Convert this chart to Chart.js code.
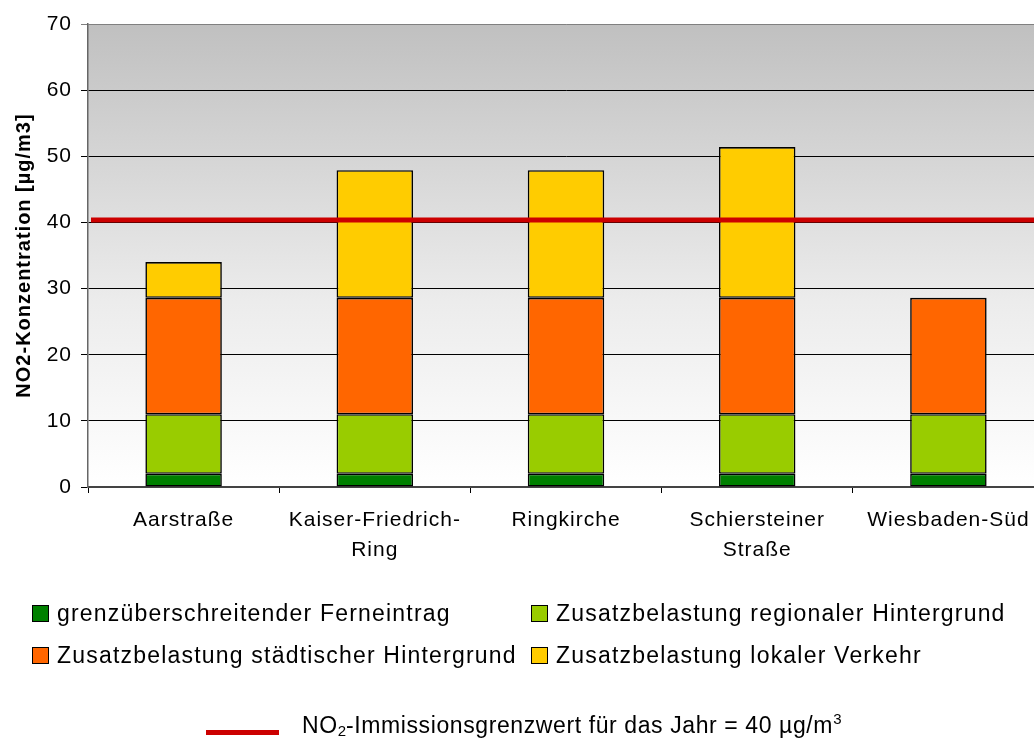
<!DOCTYPE html>
<html lang="de">
<head>
<meta charset="utf-8">
<title>NO2-Konzentration Wiesbaden</title>
<script src="https://cdn.jsdelivr.net/npm/chart.js@4.4.1/dist/chart.umd.min.js"></script>
<style>
  html, body { margin: 0; padding: 0; background: #fff; overflow: hidden; }
  #wrap { position: relative; width: 1034px; height: 738px; overflow: hidden; }
  #chart { position: absolute; left: 0; top: 0; }
  .leg { position: absolute; font-family: "Liberation Sans", Arial, sans-serif; font-size: 23px;
         letter-spacing: 1.2px; color: #000; line-height: 30px; white-space: nowrap; }
  .box { position: absolute; width: 15px; height: 15px; border: 1px solid #000; }
  sub, sup { font-size: 15px; letter-spacing: 0; }
  sub { vertical-align: -3px; }
  sup { vertical-align: 9px; }
</style>
</head>
<body>
<div id="wrap">
  <canvas id="chart" width="1044" height="738"></canvas>
  <div id="legende"></div>
</div>
<script>
// Messstellen
const standorte = ['Aarstraße', ['Kaiser-Friedrich-', 'Ring'], 'Ringkirche', ['Schiersteiner', 'Straße'], 'Wiesbaden-Süd'];

// Anteile der NO2-Belastung in µg/m3
const ferneintrag = [2, 2, 2, 2, 2];
const regional = [9, 9, 9, 9, 9];
const staedtisch = [17.6, 17.6, 17.6, 17.6, 17.6];
const verkehr = [5.4, 19.3, 19.3, 22.8, null];

const grenzwert = 40;
const yTicks = [0, 10, 20, 30, 40, 50, 60, 70];

const reihen = [
    { label: 'grenzüberschreitender Ferneintrag', data: ferneintrag, farbe: '#008000' },
    { label: 'Zusatzbelastung regionaler Hintergrund', data: regional, farbe: '#99cc00' },
    { label: 'Zusatzbelastung städtischer Hintergrund', data: staedtisch, farbe: '#ff6600' },
    { label: 'Zusatzbelastung lokaler Verkehr', data: verkehr, farbe: '#ffcc00' }
];

const schrift = '"Liberation Sans", Arial, sans-serif';

// Grauverlauf hinter der Zeichenfläche
const hintergrund = {
    id: 'hintergrund',
    beforeLayout(chart) { chart.ctx.letterSpacing = '1px'; },
    beforeDraw(chart) {
        const { ctx, chartArea: a } = chart;
        ctx.letterSpacing = '1px';
        const g = ctx.createLinearGradient(0, a.top, 0, a.bottom);
        g.addColorStop(0, '#c0c0c0');
        g.addColorStop(0.6, '#ececec');
        g.addColorStop(1, '#ffffff');
        ctx.save();
        ctx.fillStyle = g;
        ctx.fillRect(a.left, a.top, a.right - a.left, a.bottom - a.top);
        ctx.restore();
    }
};

// Rote Linie für den Jahresgrenzwert
const grenzlinie = {
    id: 'grenzlinie',
    afterDatasetsDraw(chart) {
        const { ctx, chartArea: a, scales } = chart;
        const y = scales.y.getPixelForValue(grenzwert) - 2.5;
        ctx.save();
        ctx.strokeStyle = '#cc0000';
        ctx.lineWidth = 5;
        ctx.beginPath();
        ctx.moveTo(a.left + 3, y);
        ctx.lineTo(a.right, y);
        ctx.stroke();
        ctx.restore();
    }
};

const ctx = document.getElementById('chart').getContext('2d');
const chart = new Chart(ctx, {
    type: 'bar',
    data: {
        labels: standorte,
        datasets: reihen.map(r => ({
            label: r.label,
            data: r.data,
            backgroundColor: r.farbe,
            borderColor: '#000',
            borderWidth: 1.6,
            borderSkipped: false,
            barPercentage: 0.4,
            categoryPercentage: 1.0
        }))
    },
    options: {
        responsive: false,
        animation: false,
        devicePixelRatio: 1,
        layout: { padding: { top: 24, right: 0, left: 0, bottom: 0 } },
        plugins: {
            legend: { display: false },
            tooltip: { enabled: false }
        },
        scales: {
            x: {
                stacked: true,
                afterFit(scale) { scale.height = 251; },
                grid: { drawOnChartArea: false, drawTicks: true, tickLength: 6, color: '#000', offset: true },
                border: { display: true, color: '#444', width: 2 },
                ticks: {
                    color: '#000',
                    padding: 12,
                    maxRotation: 0,
                    autoSkip: false,
                    font: { family: schrift, size: 21, lineHeight: 1.42 }
                }
            },
            y: {
                stacked: true,
                min: 0,
                max: 70,
                afterFit(scale) { scale.width = 88; },
                afterBuildTicks(scale) { scale.ticks = yTicks.map(v => ({ value: v })); },
                grid: {
                    color: c => (c.tick && c.tick.value === 70 ? '#808080' : '#000'),
                    lineWidth: 1,
                    tickLength: 7
                },
                border: { display: true, color: '#666', width: 1.5 },
                ticks: {
                    color: '#000',
                    padding: 9,
                    font: { family: schrift, size: 21 }
                },
                title: {
                    display: true,
                    text: 'NO2-Konzentration [µg/m3]',
                    color: '#000',
                    padding: { top: 12, bottom: 0 },
                    font: { family: schrift, size: 20, weight: 'bold' }
                }
            }
        }
    },
    plugins: [hintergrund, grenzlinie]
});

// Legende unter dem Diagramm
const legende = document.getElementById('legende');
const plaetze = [
    { x: 32, y: 613 },
    { x: 531, y: 613 },
    { x: 32, y: 655 },
    { x: 531, y: 655 }
];
reihen.forEach((r, i) => {
    const p = plaetze[i];
    const box = document.createElement('div');
    box.className = 'box';
    box.style.left = p.x + 'px';
    box.style.top = (p.y - 8) + 'px';
    box.style.background = r.farbe;
    legende.appendChild(box);
    const t = document.createElement('div');
    t.className = 'leg';
    t.style.left = (p.x + 25) + 'px';
    t.style.top = (p.y - 15) + 'px';
    t.textContent = r.label;
    legende.appendChild(t);
});

const linie = document.createElement('div');
linie.style.cssText = 'position:absolute;left:206px;top:730px;width:73px;height:5px;background:#cc0000;';
legende.appendChild(linie);
const linieText = document.createElement('div');
linieText.className = 'leg';
linieText.style.left = '302px';
linieText.style.top = '704px';
linieText.style.letterSpacing = '0.6px';
linieText.innerHTML = 'NO<sub>2</sub>-Immissionsgrenzwert für das Jahr = ' + grenzwert + ' µg/m<sup>3</sup>';
legende.appendChild(linieText);
</script>
</body>
</html>
